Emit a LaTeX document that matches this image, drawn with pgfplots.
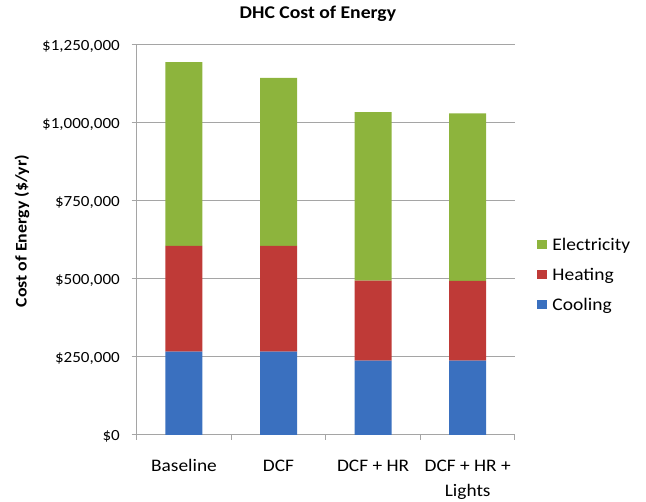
\documentclass[border=0pt]{standalone}
\usepackage{pgfplots}
\pgfplotsset{compat=1.18}
\usepackage{fontspec}
\setmainfont{Carlito}[FakeStretch=1.1]

\definecolor{elec}{HTML}{8DB43D}
\definecolor{heat}{HTML}{BF3A37}
\definecolor{cool}{HTML}{3A70BF}
\definecolor{gridgray}{RGB}{165,165,165}

\begin{document}
\begin{tikzpicture}
% page frame: plot area spans 378.3pt x 390pt, origin at its lower left corner
\path[use as bounding box] (-136.7pt,-67pt) rectangle (509.3pt,435pt);
\begin{axis}[
  at={(0pt,0pt)}, anchor=south west,
  scale only axis, width=378.3pt, height=390pt,
  ybar stacked, bar width=37pt,
  xmin=-0.5, xmax=3.5,
  ymin=0, ymax=1250000,
  axis x line*=bottom, axis y line*=left,
  axis line style={draw=gridgray, line width=1pt, -},
  % boundaries between categories carry the tick marks
  xtick={-0.5,0.5,1.5,2.5,3.5}, xticklabels={},
  extra x ticks={0,1,2,3},
  extra x tick labels={\strut Baseline,\strut DCF,\strut DCF + HR,\strut DCF + HR +\\Lights},
  extra x tick style={major tick length=0pt, grid=none,
    xticklabel style={anchor=north, align=center, inner sep=0pt, yshift=-19.1pt,
      font=\fontsize{17.6}{25}\selectfont}},
  ytick={0,250000,500000,750000,1000000,1250000},
  yticklabels={\$0,\$250{,}000,\$500{,}000,\$750{,}000,\$1{,}000{,}000,\$1{,}250{,}000},
  yticklabel style={inner sep=0pt, xshift=-11.7pt, yshift=-1.5pt,
    font=\fontsize{15.5}{18}\selectfont},
  scaled y ticks=false,
  tick align=outside, major tick length=5pt,
  tick style={draw=gridgray, line width=1pt},
  ymajorgrids, grid style={draw=gridgray, line width=1pt},
  title={\textbf{DHC Cost of Energy}},
  title style={at={(axis description cs:0.479,1.0538)}, anchor=base, inner sep=0pt,
    font=\fontsize{17.9}{21}\selectfont},
  ylabel={\textbf{Cost of Energy (\$/yr)}},
  ylabel style={at={(axis description cs:-0.2908,0.523)}, anchor=base, rotate=0,
    inner sep=0pt, font=\fontsize{16.2}{19}\selectfont},
  reverse legend,
  legend image code/.code={\fill[#1] (0pt,-3pt) rectangle (10pt,6pt);},
  legend style={at={(axis description cs:1.0573,0.5077)}, anchor=north west,
    draw=none, fill=none, inner sep=0pt, row sep=13pt,
    font=\fontsize{17.7}{21}\selectfont,
    nodes={inner sep=0pt, text height=13pt, text depth=4pt},
    /tikz/every odd column/.append style={column sep=5.6pt}},
  legend cell align=left,
]
\addplot[fill=cool, draw=none] coordinates {(0,267000) (1,267000) (2,238000) (3,238000)};
\addplot[fill=heat, draw=none] coordinates {(0,339000) (1,339000) (2,257000) (3,256000)};
\addplot[fill=elec, draw=none] coordinates {(0,589000) (1,539000) (2,540000) (3,537000)};
\legend{Cooling,Heating,Electricity}
\end{axis}
\end{tikzpicture}
\end{document}
